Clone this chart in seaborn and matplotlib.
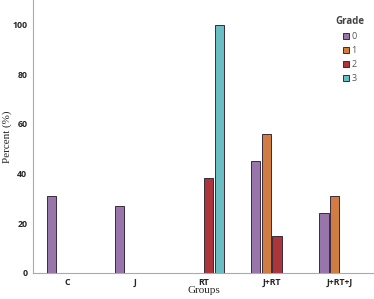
import numpy as np
import pandas as pd
import matplotlib
matplotlib.use("Agg")
import matplotlib.pyplot as plt
import seaborn as sns

groups = ["C", "J", "RT", "J+RT", "J+RT+J"]
grades = ["0", "1", "2", "3"]
grade0 = [31, 27, np.nan, 45, 24]
grade1 = [np.nan, np.nan, np.nan, 56, 31]
grade2 = [np.nan, np.nan, 38, 15, np.nan]
grade3 = [np.nan, np.nan, 100, np.nan, np.nan]
yticks = [0, 20, 40, 60, 80, 100]
colors = ["#9B6DB5", "#E8772A", "#C0212B", "#5CC9D3"]

rows = []
for g, vals in zip(grades, [grade0, grade1, grade2, grade3]):
    for grp, v in zip(groups, vals):
        if not np.isnan(v):
            rows.append({"Groups": grp, "Grade": g, "Percent": v})
df = pd.DataFrame(rows)

sns.set_style("white")
fig = plt.figure(figsize=(3.74, 2.99), dpi=100)
ax = fig.add_axes([0.088, 0.088, 0.912, 0.912])

sns.barplot(data=df, x="Groups", y="Percent", hue="Grade", order=groups,
            hue_order=grades, palette=colors, width=0.62, gap=0.14,
            edgecolor="#3a2a3a", linewidth=0.7, ax=ax)

ax.set_xlim(-0.5, 4.5)
ax.set_ylim(0, 110)
ax.set_yticks(yticks)
for lab in ax.get_yticklabels() + ax.get_xticklabels():
    lab.set_fontfamily("Open Sans")
    lab.set_fontweight("bold")
    lab.set_fontsize(6.3)
ax.tick_params(axis="y", length=0, pad=4)
ax.tick_params(axis="x", length=0, pad=4)
for s in ["top", "right"]:
    ax.spines[s].set_visible(False)
for s in ["left", "bottom"]:
    ax.spines[s].set_color("#aaaaaa")
    ax.spines[s].set_linewidth(0.8)

ax.set_ylabel("Percent (%)", fontfamily="Liberation Serif", fontsize=8)
ax.set_xlabel("Groups", fontfamily="Liberation Serif", fontsize=8)
ax.yaxis.set_label_coords(-0.06, 0.5)
ax.xaxis.set_label_coords(0.5, -0.048)

handles, labels = ax.get_legend_handles_labels()
ax.legend(handles, labels, title="Grade", frameon=False, loc="upper right",
          bbox_to_anchor=(0.995, 0.97), fontsize=6.5, title_fontsize=7,
          handlelength=0.7, handleheight=0.7, handletextpad=0.3,
          labelspacing=0.55, labelcolor="#555555")
leg = ax.get_legend()
leg.get_title().set_color("#444444")
leg.get_title().set_fontfamily("Open Sans")
leg.get_title().set_fontweight("bold")
for t in leg.get_texts():
    t.set_fontfamily("Open Sans")

fig.savefig("out.png", dpi=100)
